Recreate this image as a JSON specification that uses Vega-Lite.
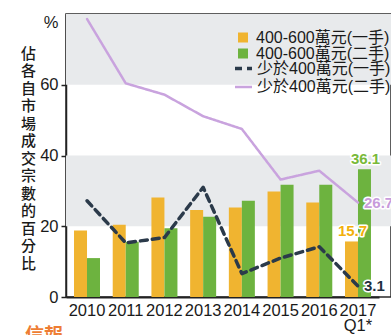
{
  "$schema": "https://vega.github.io/schema/vega-lite/v6.json",
  "width": 325,
  "height": 283,
  "autosize": {"type": "none"},
  "padding": {"left": 66, "top": 14, "right": 0, "bottom": 38},
  "background": "white",
  "config": {
    "view": {"stroke": "#2a2a2a", "strokeWidth": 1.5},
    "font": "Liberation Sans"
  },
  "title": {
    "text": "信報",
    "orient": "bottom",
    "anchor": "start",
    "frame": "group",
    "font": "Noto Sans CJK TC",
    "fontSize": 19,
    "fontWeight": "bold",
    "color": "#EE7D33",
    "offset": 0,
    "dx": -41,
    "dy": -7
  },
  "datasets": {
    "bands": [
      {"value": 20, "value_end": 40},
      {"value": 60, "value_end": 80}
    ],
    "main": [
      {"year": "2010", "series": "400-600萬元(一手)", "value": 18.8},
      {"year": "2011", "series": "400-600萬元(一手)", "value": 20.4},
      {"year": "2012", "series": "400-600萬元(一手)", "value": 28.1},
      {"year": "2013", "series": "400-600萬元(一手)", "value": 24.6},
      {"year": "2014", "series": "400-600萬元(一手)", "value": 25.3},
      {"year": "2015", "series": "400-600萬元(一手)", "value": 29.8},
      {"year": "2016", "series": "400-600萬元(一手)", "value": 26.7},
      {"year": "2017 Q1*", "series": "400-600萬元(一手)", "value": 15.7},
      {"year": "2010", "series": "400-600萬元(二手)", "value": 11.0},
      {"year": "2011", "series": "400-600萬元(二手)", "value": 15.6},
      {"year": "2012", "series": "400-600萬元(二手)", "value": 19.4},
      {"year": "2013", "series": "400-600萬元(二手)", "value": 22.7},
      {"year": "2014", "series": "400-600萬元(二手)", "value": 27.2},
      {"year": "2015", "series": "400-600萬元(二手)", "value": 31.7},
      {"year": "2016", "series": "400-600萬元(二手)", "value": 31.7},
      {"year": "2017 Q1*", "series": "400-600萬元(二手)", "value": 36.1},
      {"year": "2010", "series": "少於400萬元(一手)", "value": 27.2},
      {"year": "2011", "series": "少於400萬元(一手)", "value": 15.3},
      {"year": "2012", "series": "少於400萬元(一手)", "value": 16.8},
      {"year": "2013", "series": "少於400萬元(一手)", "value": 31.0},
      {"year": "2014", "series": "少於400萬元(一手)", "value": 6.6},
      {"year": "2015", "series": "少於400萬元(一手)", "value": 11.0},
      {"year": "2016", "series": "少於400萬元(一手)", "value": 14.2},
      {"year": "2017 Q1*", "series": "少於400萬元(一手)", "value": 3.1},
      {"year": "2010", "series": "少於400萬元(二手)", "value": 78.6},
      {"year": "2011", "series": "少於400萬元(二手)", "value": 60.4},
      {"year": "2012", "series": "少於400萬元(二手)", "value": 57.2},
      {"year": "2013", "series": "少於400萬元(二手)", "value": 51.1},
      {"year": "2014", "series": "少於400萬元(二手)", "value": 47.5},
      {"year": "2015", "series": "少於400萬元(二手)", "value": 33.2},
      {"year": "2016", "series": "少於400萬元(二手)", "value": 35.7},
      {"year": "2017 Q1*", "series": "少於400萬元(二手)", "value": 26.7}
    ]
  },
  "encoding": {
    "y": {
      "field": "value",
      "type": "quantitative",
      "scale": {"domain": [0, 80], "nice": false, "zero": true},
      "axis": {
        "title": ["佔","各","自","市","場","成","交","宗","數","的","百","分","比"],
        "titleAngle": 0,
        "titleAlign": "center",
        "titleBaseline": "top",
        "titleX": -38,
        "titleY": 32,
        "titleFont": "Noto Sans CJK TC",
        "titleFontSize": 15,
        "titleFontWeight": 500,
        "titleLineHeight": 17.5,
        "titleColor": "#1a1a1a",
        "values": [0, 20, 40, 60, 80],
        "labelExpr": "datum.value == 80 ? '%' : datum.label",
        "labelFont": "Liberation Sans Narrow, Liberation Sans",
        "labelFontSize": 16.5,
        "labelColor": "#1a1a1a",
        "labelPadding": 3,
        "labelBaseline": {"condition": {"test": "datum.value == 80", "value": "top"}, "value": "middle"},
        "tickSize": 5,
        "tickWidth": 1.5,
        "tickColor": {"condition": {"test": "datum.value == 80", "value": "transparent"}, "value": "#222"},
        "domainColor": "#222",
        "domainWidth": 1.5,
        "grid": false
      }
    }
  },
  "layer": [
    {
      "data": {"name": "bands"},
      "mark": {"type": "rect", "color": "#e8eaec"},
      "encoding": {
        "y2": {"field": "value_end"}
      }
    },
    {
      "data": {"name": "main"},
      "transform": [{"filter": "indexof(datum.series, '400-600') == 0"}],
      "mark": {"type": "bar"},
      "encoding": {
        "x": {
          "field": "year",
          "type": "nominal",
          "sort": null,
          "scale": {"range": [0, 313], "paddingInner": 0.328, "paddingOuter": 0.207},
          "axis": {
            "title": null,
            "ticks": false,
            "domainColor": "#222",
            "domainWidth": 2,
            "labelFont": "Liberation Sans Narrow, Liberation Sans",
            "labelFontSize": 16.5,
            "labelColor": "#1a1a1a",
            "labelPadding": 5,
            "labelAngle": 0,
            "labelLineHeight": 15,
            "labelExpr": "split(datum.label, ' ')"
          }
        },
        "xOffset": {"field": "series", "type": "nominal", "scale": {"domain": ["400-600萬元(一手)", "400-600萬元(二手)"], "paddingInner": 0, "paddingOuter": 0}},
        "color": {
          "field": "series",
          "type": "nominal",
          "scale": {"domain": ["400-600萬元(一手)", "400-600萬元(二手)"], "range": ["#F0B430", "#6DB33F"]},
          "legend": {
            "title": null,
            "orient": "none",
            "legendX": 169,
            "legendY": 15.5,
            "padding": 0,
            "symbolType": "square",
            "symbolSize": 100,
            "symbolStrokeWidth": 0,
            "labelFont": "Liberation Sans, Noto Sans CJK TC",
            "labelFontSize": 16,
            "labelColor": "#1a1a1a",
            "labelOffset": 5,
            "labelLimit": 300,
            "rowPadding": -0.5
          }
        }
      }
    },
    {
      "data": {"name": "main"},
      "transform": [{"filter": "indexof(datum.series, '少於') == 0"}],
      "mark": {"type": "line", "strokeCap": "round", "strokeJoin": "round"},
      "encoding": {
        "x": {"field": "year", "type": "nominal", "sort": null},
        "color": {
          "field": "series",
          "type": "nominal",
          "scale": {"domain": ["少於400萬元(一手)", "少於400萬元(二手)"], "range": ["#2B3A4A", "#C9A3DE"]},
          "legend": {
            "title": null,
            "orient": "none",
            "legendX": 167,
            "legendY": 44,
            "padding": 0,
            "symbolType": "stroke",
            "symbolSize": 289,
            "symbolStrokeWidth": 3,
            "labelFont": "Liberation Sans, Noto Sans CJK TC",
            "labelFontSize": 16,
            "labelColor": "#1a1a1a",
            "labelOffset": 3,
            "labelLimit": 300,
            "rowPadding": -0.5
          }
        },
        "strokeDash": {
          "field": "series",
          "type": "nominal",
          "scale": {"domain": ["少於400萬元(一手)", "少於400萬元(二手)"], "range": [[7, 5], [1, 0]]},
          "legend": {
            "title": null,
            "orient": "none",
            "legendX": 167,
            "legendY": 44,
            "padding": 0,
            "symbolType": "stroke",
            "symbolSize": 289,
            "symbolStrokeWidth": 3,
            "labelFont": "Liberation Sans, Noto Sans CJK TC",
            "labelFontSize": 16,
            "labelColor": "#1a1a1a",
            "labelOffset": 3,
            "labelLimit": 300,
            "rowPadding": -0.5
          }
        },
        "strokeWidth": {
          "field": "series",
          "type": "nominal",
          "scale": {"domain": ["少於400萬元(一手)", "少於400萬元(二手)"], "range": [3.5, 2.5]},
          "legend": null
        }
      }
    },
    {
      "data": {"name": "main"},
      "transform": [{"filter": "datum.year == '2017 Q1*' && indexof(datum.series, '400-600') == 0"}],
      "mark": {"type": "text", "baseline": "bottom", "dy": -2, "dx": 1, "fontSize": 15, "fontWeight": "bold", "stroke": "white", "strokeWidth": 3, "color": "white", "strokeJoin": "round"},
      "encoding": {
        "x": {"field": "year", "type": "nominal", "sort": null},
        "xOffset": {"field": "series", "type": "nominal"},
        "text": {"field": "value", "type": "quantitative", "format": ".1f"}
      }
    },
    {
      "data": {"name": "main"},
      "transform": [{"filter": "datum.year == '2017 Q1*' && indexof(datum.series, '400-600') == 0"}],
      "mark": {"type": "text", "baseline": "bottom", "dy": -2, "dx": 1, "fontSize": 15, "fontWeight": "bold"},
      "encoding": {
        "x": {"field": "year", "type": "nominal", "sort": null},
        "xOffset": {"field": "series", "type": "nominal"},
        "text": {"field": "value", "type": "quantitative", "format": ".1f"},
        "color": {
          "field": "series",
          "type": "nominal",
          "scale": {"domain": ["400-600萬元(一手)", "400-600萬元(二手)"], "range": ["#F2B00C", "#78B93A"]},
          "legend": null
        }
      }
    },
    {
      "data": {"name": "main"},
      "transform": [{"filter": "datum.year == '2017 Q1*' && indexof(datum.series, '少於') == 0"}],
      "mark": {"type": "text", "align": "left", "baseline": "middle", "dx": 6, "fontSize": 15, "fontWeight": "bold", "stroke": "white", "strokeWidth": 3, "color": "white", "strokeJoin": "round"},
      "encoding": {
        "x": {"field": "year", "type": "nominal", "sort": null},
        "text": {"field": "value", "type": "quantitative", "format": ".1f"}
      }
    },
    {
      "data": {"name": "main"},
      "transform": [{"filter": "datum.year == '2017 Q1*' && indexof(datum.series, '少於') == 0"}],
      "mark": {"type": "text", "align": "left", "baseline": "middle", "dx": 6, "fontSize": 15, "fontWeight": "bold"},
      "encoding": {
        "x": {"field": "year", "type": "nominal", "sort": null},
        "text": {"field": "value", "type": "quantitative", "format": ".1f"},
        "color": {
          "field": "series",
          "type": "nominal",
          "scale": {"domain": ["少於400萬元(一手)", "少於400萬元(二手)"], "range": ["#1F3040", "#C79BDB"]},
          "legend": null
        }
      }
    }
  ],
  "resolve": {"scale": {"color": "independent", "strokeDash": "independent", "strokeWidth": "independent"}}
}
